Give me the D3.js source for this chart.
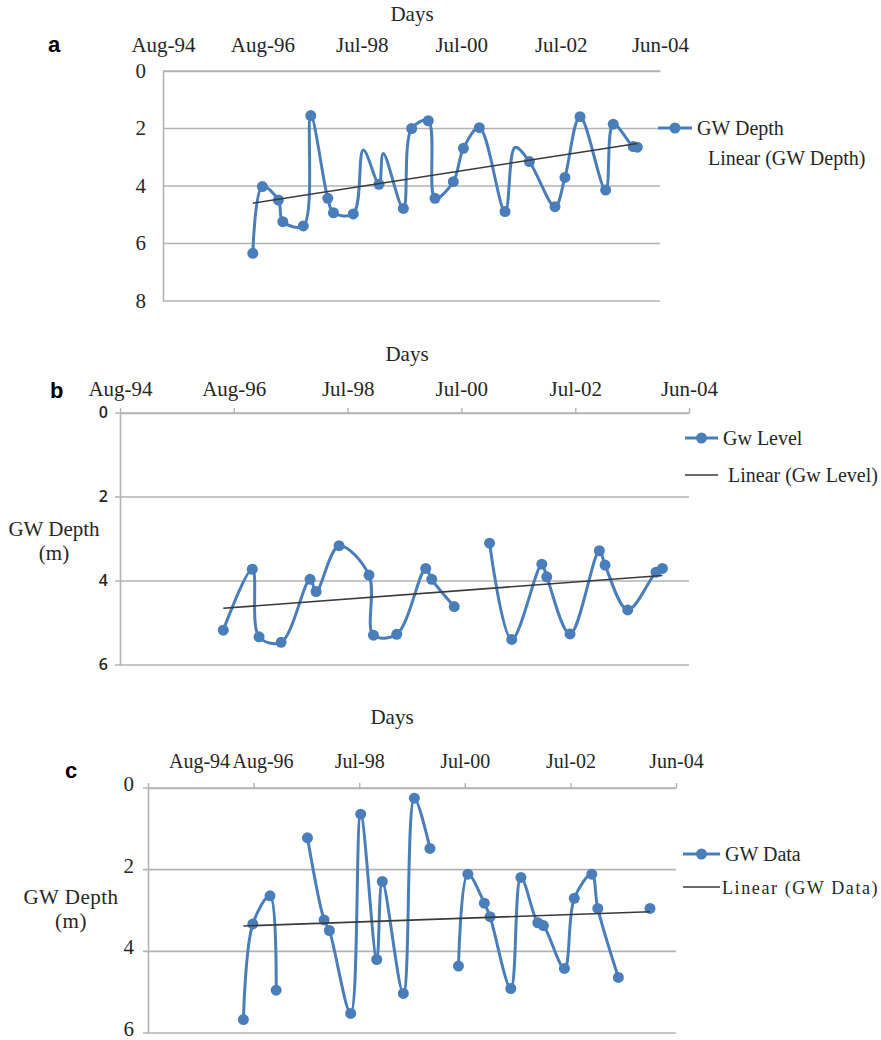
<!DOCTYPE html>
<html>
<head>
<meta charset="UTF-8">
<title>GW Depth</title>
<script src="https://d3js.org/d3.v7.min.js"></script>
<style>
  body { margin: 0; background: #fff; }
  text { fill: #262626; }
  .serif { font-family: "Liberation Serif", "DejaVu Serif", serif; }
  .panel-tag { font-family: "Liberation Sans", Arial, sans-serif; font-weight: bold; font-size: 22px; fill: #000; }
</style>
</head>
<body>
<svg width="881" height="1040"></svg>
<script>
// x axis ticks shared by the three panels
const tickDates = ["1994-08-19", "1996-08-06", "1998-07-26", "2000-07-13", "2002-07-02", "2004-06-19"];
const tickLabels = ["Aug-94", "Aug-96", "Jul-98", "Jul-00", "Jul-02", "Jun-04"];

// panel a : GW Depth (aMarked = 0 -> point drawn in the curve without a marker)
const aDates = ["1996-05-29", "1996-08-06", "1996-11-30", "1997-01-01", "1997-05-29", "1997-07-22",
  "1997-11-22", "1998-01-02", "1998-05-25", "1998-08-06", "1998-11-27", "1998-12-28",
  "1999-05-22", "1999-07-21", "1999-11-18", "2000-01-06", "2000-05-17", "2000-07-29",
  "2000-11-21", "2001-05-26", "2001-08-06", "2001-11-18", "2002-05-22", "2002-08-02",
  "2002-11-19", "2003-05-23", "2003-07-17", "2003-12-09", "2004-01-07"];
const aDepth = [6.34, 4.02, 4.49, 5.24, 5.39, 1.55,
  4.43, 4.93, 4.97, 2.75, 3.94, 2.87,
  4.78, 2.0, 1.73, 4.43, 3.85, 2.69,
  1.97, 4.89, 2.66, 3.15, 4.72, 3.70,
  1.59, 4.14, 1.85, 2.63, 2.65];
const aMarked = [1, 1, 1, 1, 1, 1,
  1, 1, 1, 0, 1, 0,
  1, 1, 1, 1, 1, 1,
  1, 1, 0, 1, 1, 1,
  1, 1, 1, 1, 1];
const aTrend = [4.6, 2.52];

// panel b : Gw Level (null = break in the line)
const bDates = ["1996-06-01", "1996-12-01", "1997-01-13", "1997-06-01", "1997-12-01", "1998-01-08",
  "1998-06-02", "1998-12-08", "1999-01-05", "1999-06-01", "1999-12-01", "2000-01-08",
  "2000-05-29", "2000-09-15", "2001-01-07", "2001-05-27", "2001-12-03", "2002-01-03",
  "2002-05-30", "2002-12-01", "2003-01-06", "2003-05-29", "2003-11-24", "2004-01-03"];
const bDepth = [5.17, 3.72, 5.33, 5.46, 3.96, 4.25,
  3.16, 3.86, 5.29, 5.27, 3.70, 3.96,
  4.61, null, 3.10, 5.39, 3.60, 3.90,
  5.26, 3.28, 3.62, 4.69, 3.79, 3.70];
const bTrend = [4.65, 3.87];

// panel c : GW Data
const cDates = ["1996-05-29", "1996-08-01", "1996-11-26", "1997-01-07", "1997-05-01", "1997-08-08",
  "1997-11-29", "1998-01-04", "1998-05-29", "1998-08-05", "1998-11-22", "1998-12-30",
  "1999-05-22", "1999-08-05", "1999-11-19", "2000-01-15", "2000-05-31", "2000-08-03",
  "2000-11-23", "2001-01-01", "2001-05-22", "2001-07-30", "2001-11-22", "2001-12-30",
  "2002-05-22", "2002-07-28", "2002-11-24", "2003-01-04", "2003-05-24", "2003-08-20",
  "2003-12-25"];
const cDepth = [5.67, 3.33, 2.64, 4.95, null, 1.22,
  3.23, 3.49, 5.52, 0.64, 4.20, 2.29,
  5.03, 0.25, 1.48, null, 4.36, 2.11,
  2.82, 3.15, 4.91, 2.19, 3.30, 3.37,
  4.42, 2.70, 2.11, 2.95, 4.64, null,
  2.95];
const cTrend = [3.38, 3.03];

const blue = "#4a7ebb";
const gridColor = "#b3b3b3";
const parse = d3.timeParse("%Y-%m-%d");
const svg = d3.select("svg");

function drawPanel(cfg) {
  const x = d3.scaleTime()
    .domain([parse(tickDates[0]), parse(tickDates[tickDates.length - 1])])
    .range([cfg.left, cfg.right]);
  const y = d3.scaleLinear().domain([0, cfg.yMax]).range([cfg.top, cfg.bottom]);
  const yTicks = d3.range(0, cfg.yMax + 1, 2);
  const g = svg.append("g");

  // gridlines
  g.selectAll(".grid").data(yTicks).join("line")
    .attr("x1", cfg.left - cfg.tickLen).attr("x2", cfg.right)
    .attr("y1", d => y(d)).attr("y2", d => y(d))
    .attr("stroke", gridColor).attr("stroke-width", 1.6);

  // x axis on top
  const xAxis = g.append("g")
    .attr("transform", `translate(0,${cfg.top})`)
    .call(d3.axisTop(x)
      .tickValues(tickDates.map(parse))
      .tickFormat((d, i) => tickLabels[i])
      .tickSize(cfg.tickLen).tickSizeOuter(0).tickPadding(cfg.xPad));
  xAxis.select(".domain").attr("stroke", gridColor).attr("stroke-width", 1.6);
  xAxis.selectAll(".tick line").attr("stroke", gridColor).attr("stroke-width", 1.4);
  xAxis.selectAll(".tick text")
    .attr("class", "serif").attr("font-size", cfg.xFont).attr("fill", "#262626")
    .attr("dx", (d, i) => cfg.labelShift ? cfg.labelShift[i] : 0);

  // y axis (left)
  const yAxis = g.append("g")
    .attr("transform", `translate(${cfg.left},0)`)
    .call(d3.axisLeft(y).tickValues(yTicks).tickFormat(d3.format("d"))
      .tickSize(0).tickSizeOuter(0).tickPadding(cfg.yPad));
  yAxis.select(".domain").attr("stroke", gridColor).attr("stroke-width", 1.6);
  yAxis.selectAll(".tick text")
    .attr("font-family", cfg.yFamily).attr("font-weight", cfg.yWeight)
    .attr("font-size", cfg.yFont).attr("fill", "#262626")
    .attr("dy", cfg.yDy || "0.3em");

  // titles
  g.append("text").attr("class", "serif").attr("font-size", 21)
    .attr("x", cfg.daysX).attr("y", cfg.daysY).attr("text-anchor", "middle").text("Days");
  g.append("text").attr("class", "panel-tag")
    .attr("x", cfg.tagX).attr("y", cfg.tagY).text(cfg.tag);
  if (cfg.yTitle) {
    const t = g.append("text").attr("class", "serif").attr("font-size", 21)
      .attr("text-anchor", "middle").attr("letter-spacing", cfg.yTitleSpacing || 0);
    t.append("tspan").attr("x", cfg.yTitleX).attr("y", cfg.yTitleY).text("GW Depth");
    t.append("tspan").attr("x", cfg.yTitleX).attr("y", cfg.yTitleY + 24).text("(m)");
  }

  // series
  const pts = cfg.dates.map((d, i) => ({
    t: parse(d), v: cfg.depth[i], m: cfg.marked ? cfg.marked[i] : 1
  }));
  const line = d3.line()
    .defined(d => d.v !== null)
    .x(d => x(d.t)).y(d => y(d.v))
    .curve(d3.curveCatmullRom.alpha(0.5));
  g.append("path").datum(pts)
    .attr("d", line).attr("fill", "none")
    .attr("stroke", blue).attr("stroke-width", 3);
  g.selectAll(".pt").data(pts.filter(d => d.v !== null && d.m)).join("circle")
    .attr("cx", d => x(d.t)).attr("cy", d => y(d.v)).attr("r", 5.5)
    .attr("fill", blue);

  // linear trend line between first and last readings
  const valid = pts.filter(d => d.v !== null);
  const ends = [valid[0].t, valid[valid.length - 1].t];
  g.append("line")
    .attr("x1", x(ends[0])).attr("y1", y(cfg.trend[0]))
    .attr("x2", x(ends[1])).attr("y2", y(cfg.trend[1]))
    .attr("stroke", "#3a3a3a").attr("stroke-width", 1.6);

  // legend
  const L = cfg.legend;
  g.append("line").attr("x1", L.x).attr("x2", L.x + L.w).attr("y1", L.y1).attr("y2", L.y1)
    .attr("stroke", blue).attr("stroke-width", 3);
  g.append("circle").attr("cx", L.x + L.w / 2).attr("cy", L.y1).attr("r", 5.5).attr("fill", blue);
  g.append("text").attr("class", "serif").attr("font-size", 20)
    .attr("x", L.x + L.w + 5).attr("y", L.y1 + 7).text(L.name);
  if (L.trendLine) {
    g.append("line").attr("x1", L.x).attr("x2", L.x + L.w).attr("y1", L.y2).attr("y2", L.y2)
      .attr("stroke", "#3a3a3a").attr("stroke-width", 1.4);
  }
  g.append("text").attr("class", "serif").attr("font-size", L.font2 || 20)
    .attr("letter-spacing", L.spacing || 0)
    .attr("x", L.tx2).attr("y", L.y2 + 7).text(`Linear (${L.name})`);
}

drawPanel({
  tag: "a", tagX: 48, tagY: 52,
  left: 163, right: 660, top: 71, bottom: 301, yMax: 8,
  tickLen: 0, xPad: 19, xFont: 21, yPad: 17, yFont: 21,
  yFamily: "Liberation Serif", yWeight: "normal",
  daysX: 412, daysY: 21,
  dates: aDates, depth: aDepth, marked: aMarked, trend: aTrend,
  legend: { x: 658, w: 34, y1: 128, name: "GW Depth", trendLine: false, y2: 158, tx2: 708 }
});

drawPanel({
  tag: "b", tagX: 50, tagY: 398,
  left: 120, right: 689, top: 413, bottom: 665, yMax: 6,
  tickLen: 5, xPad: 12, xFont: 21, yPad: 12, yFont: 16,
  yFamily: "Open Sans", yWeight: 600,
  daysX: 407, daysY: 361,
  yTitle: true, yTitleX: 54, yTitleY: 536,
  dates: bDates, depth: bDepth, trend: bTrend,
  legend: { x: 685, w: 33, y1: 438, name: "Gw Level", trendLine: true, y2: 475, tx2: 728 }
});

drawPanel({
  tag: "c", tagX: 65, tagY: 778,
  left: 148, right: 676, top: 788, bottom: 1033, yMax: 6,
  tickLen: 5, xPad: 15, xFont: 20, yPad: 14, yFont: 21, yDy: "0.12em",
  yFamily: "Liberation Serif", yWeight: "normal",
  labelShift: [51, 9, 0, 0, 0, 0],
  daysX: 392, daysY: 724,
  yTitle: true, yTitleX: 71, yTitleY: 904, yTitleSpacing: 0.5,
  dates: cDates, depth: cDepth, trend: cTrend,
  legend: { x: 683, w: 37, y1: 854, name: "GW Data", trendLine: true, y2: 887, tx2: 722, font2: 18, spacing: 1.6 }
});
</script>
</body>
</html>
